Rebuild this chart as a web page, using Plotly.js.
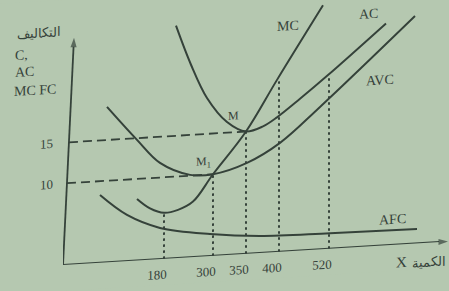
<!DOCTYPE html>
<html><head><meta charset="utf-8">
<script src="https://cdn.plot.ly/plotly-3.0.1.min.js"></script>
<style>
html,body{margin:0;padding:0;background:#b5c8b0;overflow:hidden;}
#chart{width:449px;height:291px;transform:skewY(-3.5deg);transform-origin:63px 265px;}
</style></head><body><div id="chart"></div>
<script>
// Quantity marks along X (schematic drawing positions) and their labels
const qPos = [101, 150, 183, 216, 266];
const qLabels = ['180', '300', '350', '400', '520'];
const dropTop = [5.65, 10, 15, 20.9, 21.2];   // where each dotted drop line starts

// Cost curves (schematic drawing x, cost y)
const mcX  = [74, 87, 101, 115, 130, 150, 183, 214, 260];
const mcY  = [7.55, 6.3, 5.65, 5.9, 6.8, 10, 15, 21.1, 29.9];
const acX  = [113, 128, 144, 164, 183, 200, 214, 237, 265, 323];
const acY  = [28.5, 23.6, 19.4, 16.3, 15, 15.5, 16.5, 18.6, 21.3, 27.2];
const avcX = [44, 74, 97, 127, 150, 184, 217, 257, 352];
const avcY = [19.06, 14.79, 11.79, 10.1, 10, 11.14, 13.35, 17.46, 27.9];
const afcX = [37, 64, 97, 147, 197, 267, 354];
const afcY = [8.3, 5.66, 3.82, 2.7, 2.09, 1.9, 1.75];

const yTicks = [10, 15];
const levelY = [10, 15];        // dashed levels (M1, M)
const levelEndX = [150, 183];   // x of M1, M
const yAxisTop = [11, 27.8];    // hand-drawn leaning vertical axis tip
const xAxisEnd = 385;

const X_MAX = 385, Y_MAX = 32.5;
const ink = '#35423a';
const font = '"Liberation Serif", "DejaVu Serif", serif';

function curve(x, y) {
  return {x: x, y: y, type: 'scatter', mode: 'lines', hoverinfo: 'skip',
          line: {color: ink, width: 2, shape: 'spline', smoothing: 1}, cliponaxis: false};
}
function axisArrow(x, y) {
  return {x: x, y: y, type: 'scatter', mode: 'lines+markers', hoverinfo: 'skip', cliponaxis: false,
          line: {color: ink, width: 1.8},
          marker: {symbol: 'arrow', size: [0, 10], angleref: 'previous', color: ink, line: {width: 0}}};
}
const data = [
  curve(mcX, mcY), curve(acX, acY), curve(avcX, avcY), curve(afcX, afcY),
  axisArrow([0, yAxisTop[0]], [0, yAxisTop[1]]),
  axisArrow([0, xAxisEnd], [0, 0])
];

const shapes = [];
qPos.forEach((q, i) => shapes.push({type: 'line', xref: 'x', yref: 'y', x0: q, x1: q, y0: 0, y1: dropTop[i],
  line: {color: ink, width: 2, dash: '2.5px,3.5px'}}));
levelY.forEach((lv, i) => shapes.push({type: 'line', xref: 'x', yref: 'y',
  x0: yAxisTop[0] * lv / yAxisTop[1], x1: levelEndX[i], y0: lv, y1: lv,
  line: {color: ink, width: 1.8, dash: '9px,5px'}}));

// labels positioned in paper space (they may sit outside the axis ranges)
function label(text, x, y, size, extra) {
  return Object.assign({text: text, x: x / X_MAX, y: y / Y_MAX, xref: 'paper', yref: 'paper', showarrow: false,
    xanchor: 'center', yanchor: 'middle',
    font: {family: font, size: size, color: ink}}, extra || {});
}
const annotations = [
  label('MC', 225, 27.6, 14),
  label('AC', 305, 28.5, 14),
  label('AVC', 317, 20.3, 14),
  label('AFC', 329, 3.18, 14),
  label('M', 170, 17.1, 12),
  label('M<sub>1</sub>', 140, 11.5, 12),
  label('X', 338, -2.16, 15),
  label('الكمية', 347, -2.38, 13, {xanchor: 'left'}),
  label('التكاليف', -48, 28.66, 13, {xanchor: 'left'}),
  label('C,', -50, 26.09, 14, {xanchor: 'left'}),
  label('AC', -50, 23.96, 14, {xanchor: 'left'}),
  label('MC FC', -51, 21.62, 14, {xanchor: 'left'})
];

const layout = {
  width: 449, height: 291,
  margin: {l: 63, r: 1, t: 0, b: 26, pad: 0},
  paper_bgcolor: '#b5c8b0', plot_bgcolor: 'rgba(0,0,0,0)',
  showlegend: false,
  font: {family: font, size: 14, color: ink},
  xaxis: {range: [0, X_MAX], showgrid: false, zeroline: false, showline: false, ticks: '',
          tickvals: qPos, ticktext: qLabels, ticklabelshift: -7, ticklabelstandoff: 6,
          tickfont: {family: font, size: 13, color: ink}, fixedrange: true},
  yaxis: {range: [0, Y_MAX], showgrid: false, zeroline: false, showline: false, ticks: '',
          tickvals: yTicks, ticklabelstandoff: 9,
          tickfont: {family: font, size: 13, color: ink}, fixedrange: true},
  shapes: shapes,
  annotations: annotations
};
Plotly.newPlot('chart', data, layout, {staticPlot: true, displayModeBar: false});
</script></body></html>
